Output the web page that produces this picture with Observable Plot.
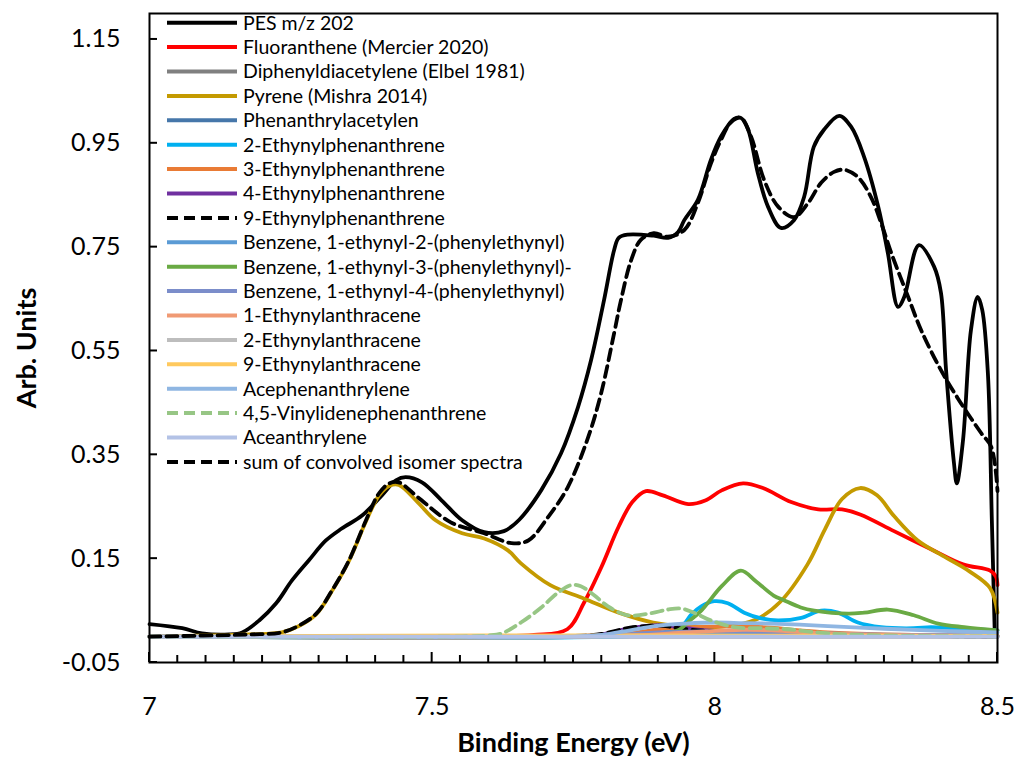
<!DOCTYPE html>
<html><head><meta charset="utf-8">
<script src="https://cdn.jsdelivr.net/npm/d3@7"></script>
<script src="https://cdn.jsdelivr.net/npm/@observablehq/plot@0.6"></script>
<style>body{margin:0;background:#fff;} svg{display:block}</style>
</head><body><div id="chart"></div>
<script>
const names = ["PES m/z 202","Fluoranthene (Mercier 2020)","Diphenyldiacetylene (Elbel 1981)","Pyrene (Mishra 2014)","Phenanthrylacetylen","2-Ethynylphenanthrene","3-Ethynylphenanthrene","4-Ethynylphenanthrene","9-Ethynylphenanthrene","Benzene, 1-ethynyl-2-(phenylethynyl)","Benzene, 1-ethynyl-3-(phenylethynyl)-","Benzene, 1-ethynyl-4-(phenylethynyl)","1-Ethynylanthracene","2-Ethynylanthracene","9-Ethynylanthracene","Acephenanthrylene","4,5-Vinylidenephenanthrene","Aceanthrylene","sum of convolved isomer spectra"];
const colors = ["#000000","#FF0000","#808080","#C49A00","#4677AA","#00B0F0","#E97B35","#7030A0","#000000","#5B9BD5","#6AAA44","#7B8DCA","#F09A74","#BDBDBD","#FFC95E","#8FB6E2","#97C685","#B3C2E6","#000000"];
const dashed = [false,false,false,false,false,false,false,false,true,false,false,false,false,false,false,false,true,false,true];

const xTicks = [7, 7.5, 8, 8.5];
const yTicks = [-0.05, 0.15, 0.35, 0.55, 0.75, 0.95, 1.15];

const pes = [[7.0,0.024],[7.058,0.016],[7.093,0.006],[7.141,0.004],[7.164,0.008],[7.194,0.031],[7.224,0.064],[7.252,0.108],[7.282,0.147],[7.312,0.185],[7.340,0.208],[7.376,0.233],[7.411,0.272],[7.436,0.301],[7.453,0.307],[7.482,0.297],[7.517,0.262],[7.553,0.224],[7.592,0.201],[7.627,0.203],[7.654,0.225],[7.693,0.282],[7.728,0.353],[7.758,0.442],[7.781,0.532],[7.804,0.648],[7.822,0.745],[7.830,0.768],[7.846,0.774],[7.892,0.772],[7.917,0.768],[7.935,0.779],[7.946,0.802],[7.970,0.841],[7.993,0.918],[8.011,0.963],[8.034,0.997],[8.046,0.999],[8.059,0.976],[8.076,0.893],[8.094,0.828],[8.117,0.787],[8.140,0.802],[8.158,0.847],[8.175,0.943],[8.193,0.976],[8.220,1.003],[8.241,0.982],[8.264,0.924],[8.289,0.828],[8.306,0.739],[8.324,0.635],[8.335,0.654],[8.361,0.754],[8.388,0.712],[8.400,0.662],[8.409,0.513],[8.423,0.334],[8.428,0.295],[8.439,0.378],[8.453,0.59],[8.465,0.654],[8.473,0.629],[8.483,0.507],[8.490,0.224],[8.495,0.012]];
const fluoranthene = [[7.0,0],[7.6,0],[7.68,0.003],[7.739,0.014],[7.769,0.066],[7.799,0.133],[7.830,0.212],[7.854,0.259],[7.878,0.28],[7.908,0.272],[7.953,0.255],[7.983,0.262],[8.013,0.282],[8.050,0.295],[8.085,0.286],[8.135,0.259],[8.183,0.245],[8.225,0.245],[8.257,0.235],[8.317,0.203],[8.379,0.17],[8.439,0.139],[8.487,0.127],[8.497,0.116],[8.5,0.099]];
const diphenyldiacetylene = [[7.0,0],[8.5,0]];
const pyrene = [[7.0,0],[7.176,0.004],[7.234,0.008],[7.264,0.02],[7.295,0.043],[7.323,0.088],[7.353,0.146],[7.383,0.222],[7.406,0.272],[7.424,0.29],[7.441,0.292],[7.475,0.258],[7.506,0.224],[7.553,0.199],[7.592,0.189],[7.634,0.166],[7.657,0.141],[7.709,0.099],[7.769,0.073],[7.830,0.046],[7.891,0.027],[7.953,0.019],[8.013,0.019],[8.073,0.033],[8.115,0.066],[8.164,0.139],[8.195,0.207],[8.225,0.265],[8.257,0.286],[8.287,0.272],[8.317,0.232],[8.359,0.185],[8.409,0.152],[8.451,0.125],[8.487,0.093],[8.5,0.046]];
const phenanthrylacetylen = [[7.0,0],[7.8,0],[7.9,0.005],[8.0,0.006],[8.1,0.005],[8.3,0.002],[8.5,0]];
const eth2phen = [[7.0,0],[7.85,0.001],[7.9,0.006],[7.93,0.015],[7.946,0.025],[7.958,0.042],[7.976,0.058],[7.999,0.068],[8.023,0.064],[8.052,0.046],[8.082,0.035],[8.112,0.031],[8.153,0.036],[8.188,0.05],[8.218,0.046],[8.253,0.027],[8.294,0.018],[8.352,0.016],[8.382,0.018],[8.423,0.016],[8.5,0.012]];
const eth3phen = [[7.0,0],[7.8,0.001],[7.85,0.006],[7.9,0.014],[7.95,0.018],[8.0,0.019],[8.05,0.02],[8.1,0.017],[8.15,0.012],[8.2,0.008],[8.3,0.004],[8.4,0.002],[8.5,0.001]];
const eth4phen = [[7.0,0],[7.75,0.001],[7.8,0.004],[7.85,0.016],[7.9,0.022],[7.95,0.016],[8.0,0.011],[8.05,0.012],[8.1,0.012],[8.15,0.009],[8.2,0.005],[8.3,0.002],[8.5,0]];
const eth9phen = [[7.0,0],[7.75,0.001],[7.8,0.005],[7.85,0.017],[7.9,0.021],[7.95,0.014],[8.0,0.01],[8.05,0.009],[8.1,0.008],[8.2,0.004],[8.3,0.002],[8.5,0]];
const benz2 = [[7.0,0],[7.8,0.001],[7.9,0.004],[8.0,0.005],[8.1,0.004],[8.3,0.002],[8.5,0.001]];
const benz3 = [[7.0,0],[7.85,0.001],[7.9,0.003],[7.935,0.012],[7.955,0.03],[7.976,0.05],[8.013,0.098],[8.046,0.127],[8.073,0.106],[8.104,0.079],[8.122,0.07],[8.152,0.056],[8.176,0.05],[8.236,0.044],[8.264,0.046],[8.306,0.052],[8.352,0.041],[8.395,0.025],[8.441,0.018],[8.5,0.012]];
const benz4 = [[7.0,0],[7.8,0.002],[7.9,0.008],[8.0,0.01],[8.1,0.009],[8.2,0.006],[8.35,0.003],[8.5,0.002]];
const eth1anth = [[7.0,0],[7.85,0.002],[7.95,0.008],[8.05,0.013],[8.1,0.012],[8.2,0.006],[8.3,0.003],[8.5,0.001]];
const eth2anth = [[7.0,0],[8.5,0]];
const eth9anth = [[7.0,0],[7.3,0.001],[7.6,0.002],[7.9,0.002],[8.5,0.001]];
const acephenanthrylene = [[7.0,0],[7.75,0],[7.8,0.003],[7.85,0.012],[7.9,0.021],[7.95,0.025],[8.0,0.027],[8.05,0.026],[8.1,0.025],[8.15,0.023],[8.2,0.02],[8.3,0.015],[8.4,0.011],[8.5,0.008]];
const vinylidene = [[7.0,0],[7.55,0],[7.6,0.002],[7.623,0.006],[7.657,0.027],[7.693,0.056],[7.723,0.085],[7.746,0.099],[7.763,0.097],[7.786,0.08],[7.811,0.058],[7.846,0.041],[7.887,0.045],[7.917,0.052],[7.940,0.054],[7.963,0.046],[7.993,0.031],[8.034,0.018],[8.082,0.016],[8.129,0.014],[8.2,0.006],[8.3,0.002],[8.5,0]];
const aceanthrylene = [[7.0,0],[8.5,0]];
const sumSpectra = [[7.0,0],[7.176,0.004],[7.234,0.008],[7.264,0.021],[7.295,0.044],[7.323,0.089],[7.353,0.147],[7.383,0.224],[7.406,0.276],[7.424,0.295],[7.441,0.297],[7.475,0.268],[7.533,0.22],[7.592,0.199],[7.640,0.18],[7.670,0.185],[7.705,0.23],[7.740,0.288],[7.776,0.384],[7.799,0.469],[7.822,0.585],[7.834,0.648],[7.852,0.725],[7.869,0.764],[7.892,0.777],[7.917,0.77],[7.946,0.783],[7.970,0.835],[7.993,0.911],[8.011,0.957],[8.029,0.991],[8.046,0.999],[8.064,0.963],[8.087,0.88],[8.112,0.828],[8.140,0.808],[8.165,0.835],[8.188,0.874],[8.211,0.895],[8.229,0.899],[8.253,0.885],[8.276,0.847],[8.294,0.797],[8.312,0.739],[8.342,0.654],[8.365,0.59],[8.400,0.513],[8.435,0.45],[8.471,0.392],[8.489,0.365],[8.5,0.28]];

const seriesData = [pes, fluoranthene, diphenyldiacetylene, pyrene, phenanthrylacetylen, eth2phen, eth3phen, eth4phen, eth9phen, benz2, benz3, benz4, eth1anth, eth2anth, eth9anth, acephenanthrylene, vinylidene, aceanthrylene, sumSpectra];
const minorTicks = d3.range(0, 31).map(i => 7 + i * 0.05);

const FONT = "Lato, 'Open Sans', sans-serif";
const plot = Plot.plot({
  width: 1017, height: 757,
  marginLeft: 149, marginRight: 20, marginTop: 13, marginBottom: 95,
  style: {fontFamily: FONT, background: "white", color: "black"},
  x: {domain: [7, 8.5]},
  y: {domain: [-0.05, 1.2]},
  marks: [
    ...seriesData.map((s, i) => Plot.line(s, {
      x: d => d[0], y: d => d[1], stroke: colors[i], strokeWidth: 3.8,
      strokeDasharray: dashed[i] ? "11,6" : null, curve: "catmull-rom"
    })),
    Plot.frame({stroke: "black", strokeWidth: 2}),
    Plot.axisY(yTicks, {tickSize: 0, tickPadding: 29, tickFormat: d => d.toFixed(2), fontSize: 25, label: null}),
    Plot.axisX(xTicks, {tickSize: 0, tickPadding: 35, tickFormat: d => String(d), fontSize: 25, label: null}),
    Plot.text(["Arb. Units"], {text: d => d, frameAnchor: "left", textAnchor: "middle", dx: -122, dy: 10, rotate: -90, fontWeight: "bold", fontSize: 27}),
    Plot.text(["Binding Energy (eV)"], {text: d => d, frameAnchor: "bottom", dy: 89, fontWeight: "bold", fontSize: 27})
  ]
});

const sx = plot.scale("x"), sy = plot.scale("y");
const svg = d3.select(plot);
const tg = svg.append("g").attr("stroke", "black").attr("stroke-width", 2);
const y0 = sy.apply(-0.05), x0 = sx.apply(7);
minorTicks.forEach(v => {
  const major = xTicks.some(t => Math.abs(t - v) < 1e-9);
  tg.append("line").attr("x1", sx.apply(v)).attr("x2", sx.apply(v)).attr("y1", y0).attr("y2", y0 - (major ? 10 : 7));
});
yTicks.forEach(v => {
  tg.append("line").attr("x1", x0).attr("x2", x0 + 8).attr("y1", sy.apply(v)).attr("y2", sy.apply(v));
});

const lg = svg.append("g").attr("font-family", FONT).attr("font-size", 19.5).attr("text-anchor", "start");
names.forEach((name, i) => {
  const y = 22.7 + i * 24.4;
  lg.append("line").attr("x1", 167).attr("x2", 237).attr("y1", y).attr("y2", y)
    .attr("stroke", colors[i]).attr("stroke-width", 4)
    .attr("stroke-dasharray", dashed[i] ? "11,6" : null);
  lg.append("text").attr("x", 243).attr("y", y).attr("dy", "0.35em").attr("fill", "black").text(name);
});
document.getElementById("chart").appendChild(plot);
</script></body></html>
